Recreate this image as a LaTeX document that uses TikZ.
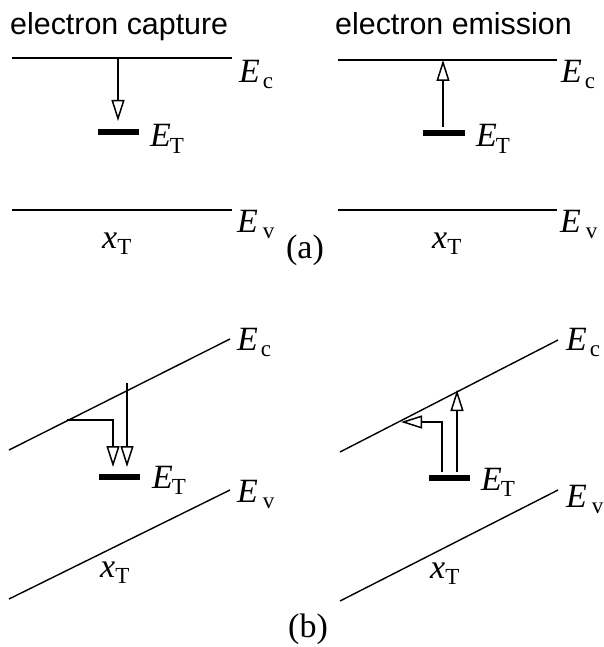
\documentclass[tikz,border=0pt]{standalone}
\usepackage{fontspec}
\setmainfont{Liberation Serif}
\newfontfamily\helv{Liberation Sans}
\usetikzlibrary{arrows.meta}
\newcommand\slab[3]{{\fontsize{34}{38}\selectfont\textit{#1}\kern#3\raisebox{-6pt}{\fontsize{23}{24}\selectfont #2}}}
\tikzset{
  band/.style={line width=1.4pt},
  trap/.style={line width=6.5pt},
  elec/.style={line width=2.6pt,-{Triangle[open,length=21pt,width=13pt,line width=1.5pt]}},
  lab/.style={anchor=base west,inner sep=0pt},
  title/.style={anchor=base west,inner sep=0pt,font=\helv\fontsize{30.4}{36}\selectfont},
  panel/.style={anchor=base,inner sep=0pt,font=\fontsize{34}{38}\selectfont}
}
\begin{document}
\begin{tikzpicture}[x=1pt,y=-1pt]
\useasboundingbox (0,0) rectangle (603,647);
% titles
\node[title] (t1) at (10,35) {electron capture};
\node[title] (t2) at (335,35) {electron emission};
% ---- (a) left
\coordinate (aLc1) at (12,58); \coordinate (aLc2) at (232,58);
\coordinate (aLv1) at (12,210); \coordinate (aLv2) at (232,210);
\coordinate (aLt1) at (98,132); \coordinate (aLt2) at (139,132);
\coordinate (aLs) at (118,58); \coordinate (aLe) at (118,121);
\draw[band] (aLc1) -- (aLc2);
\draw[band] (aLv1) -- (aLv2);
\draw[trap] (aLt1) -- (aLt2);
\draw[elec] (aLs) -- (aLe);
\node[lab] (aLEc) at (239,83) {\slab{E}{c}{3pt}};
\node[lab] (aLET) at (150,147) {\slab{E}{T}{-1pt}};
\node[lab] (aLEv) at (237,232) {\slab{E}{v}{5pt}};
\node[lab] (aLx) at (102,248) {\slab{x}{T}{0pt}};
% ---- (a) right
\coordinate (aRc1) at (338,60); \coordinate (aRc2) at (557,60);
\coordinate (aRv1) at (338,210); \coordinate (aRv2) at (557,210);
\coordinate (aRt1) at (423,133); \coordinate (aRt2) at (465,133);
\coordinate (aRs) at (443,127); \coordinate (aRe) at (443,60);
\draw[band] (aRc1) -- (aRc2);
\draw[band] (aRv1) -- (aRv2);
\draw[trap] (aRt1) -- (aRt2);
\draw[elec] (aRs) -- (aRe);
\node[lab] (aREc) at (561,83) {\slab{E}{c}{3pt}};
\node[lab] (aRET) at (476,147) {\slab{E}{T}{-1pt}};
\node[lab] (aREv) at (560,232) {\slab{E}{v}{5pt}};
\node[lab] (aRx) at (432,248) {\slab{x}{T}{0pt}};
\node[panel] (pa) at (305,258) {(a)};
% ---- (b) left
\coordinate (bLc1) at (9,450); \coordinate (bLc2) at (230,339);
\coordinate (bLv1) at (9,599); \coordinate (bLv2) at (230,490);
\coordinate (bLt1) at (99,477); \coordinate (bLt2) at (140,477);
\coordinate (bLs) at (127,383); \coordinate (bLe) at (127,467);
\coordinate (bLh) at (67,420); \coordinate (bLk) at (113,420); \coordinate (bLf) at (113,467);
\draw[band] (bLc1) -- (bLc2);
\draw[band] (bLv1) -- (bLv2);
\draw[trap] (bLt1) -- (bLt2);
\draw[elec] (bLs) -- (bLe);
\draw[elec] (bLh) -- (bLk) -- (bLf);
\node[lab] (bLEc) at (237,350) {\slab{E}{c}{3pt}};
\node[lab] (bLET) at (152,488) {\slab{E}{T}{-1pt}};
\node[lab] (bLEv) at (237,502) {\slab{E}{v}{5pt}};
\node[lab] (bLx) at (100,577) {\slab{x}{T}{0pt}};
% ---- (b) right
\coordinate (bRc1) at (340,452); \coordinate (bRc2) at (558,340);
\coordinate (bRv1) at (340,601); \coordinate (bRv2) at (558,490);
\coordinate (bRt1) at (429,478); \coordinate (bRt2) at (470,478);
\coordinate (bRs) at (457,472); \coordinate (bRe) at (457,390);
\coordinate (bRh) at (442,472); \coordinate (bRk) at (442,422); \coordinate (bRf) at (401,422);
\draw[band] (bRc1) -- (bRc2);
\draw[band] (bRv1) -- (bRv2);
\draw[trap] (bRt1) -- (bRt2);
\draw[elec] (bRs) -- (bRe);
\draw[elec] (bRh) -- (bRk) -- (bRf);
\node[lab] (bREc) at (566,350) {\slab{E}{c}{3pt}};
\node[lab] (bRET) at (481,490) {\slab{E}{T}{-1pt}};
\node[lab] (bREv) at (566,507) {\slab{E}{v}{5pt}};
\node[lab] (bRx) at (430,578) {\slab{x}{T}{0pt}};
\node[panel] (pb) at (308,637) {(b)};
\end{tikzpicture}
\end{document}
